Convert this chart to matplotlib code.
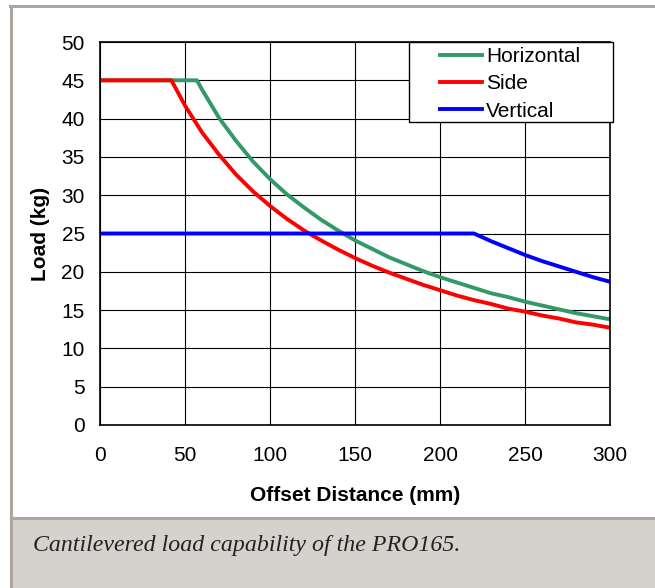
import matplotlib
matplotlib.use("Agg")
import matplotlib.pyplot as plt
from matplotlib.patches import Rectangle
from matplotlib.lines import Line2D

# Offset distance (mm) and rated load (kg) for each load direction
horiz_x = [0, 57, 60, 70, 80, 90, 100, 110, 120, 130, 140, 150, 160, 170, 180,
           190, 200, 210, 220, 230, 240, 250, 260, 270, 280, 290, 300]
horiz_y = [45, 45, 43.8, 40.1, 37.1, 34.4, 32.1, 30.1, 28.4, 26.8, 25.4, 24.1,
           23.0, 21.9, 21.0, 20.1, 19.3, 18.6, 17.9, 17.2, 16.7, 16.1, 15.6,
           15.1, 14.6, 14.2, 13.8]

side_x = [0, 42, 50, 60, 70, 80, 90, 100, 110, 120, 130, 140, 150, 160, 170,
          180, 190, 200, 210, 220, 230, 240, 250, 260, 270, 280, 290, 300]
side_y = [45, 45, 41.7, 38.2, 35.3, 32.7, 30.5, 28.6, 26.9, 25.4, 24.1, 22.9,
          21.8, 20.8, 19.9, 19.1, 18.3, 17.6, 16.9, 16.3, 15.8, 15.2, 14.8,
          14.3, 13.9, 13.4, 13.1, 12.7]

vert_x = [0, 220, 230, 240, 250, 260, 270, 280, 290, 300]
vert_y = [25, 25, 24.0, 23.1, 22.2, 21.4, 20.7, 20.0, 19.3, 18.7]

series_names = ["Horizontal", "Side", "Vertical"]
series_colors = ["#339966", "#ff0000", "#0000ff"]

caption = "Cantilevered load capability of the PRO165."

plt.rcParams["font.family"] = ["Liberation Sans", "DejaVu Sans"]

W, H = 655, 588
fig = plt.figure(figsize=(W / 100, H / 100), dpi=100)
fig.patch.set_facecolor("white")

# frame around chart + caption panel
border = "#aca69f"
fig.patches.append(Rectangle((11 / W, 0), 1 - 11 / W, 1 - 519 / H,
                             transform=fig.transFigure, facecolor="#d5d2cd",
                             edgecolor="none", zorder=0))
fig.add_artist(Line2D([11 / W, 11 / W], [0, 1 - 6 / H], color=border, lw=2.2,
                      transform=fig.transFigure))
fig.add_artist(Line2D([10 / W, 1], [1 - 6 / H, 1 - 6 / H], color=border, lw=2.2,
                      transform=fig.transFigure))
fig.add_artist(Line2D([11 / W, 1], [1 - 518 / H, 1 - 518 / H], color=border,
                      lw=2.2, transform=fig.transFigure))

fig.text(33 / W, 1 - 545 / H, caption, family=["Liberation Serif"],
         style="italic", fontsize=17.2, color="#222222", va="center", ha="left")

ax = fig.add_axes([100 / W, 1 - 425 / H, 510 / W, 383 / H])
for xs, ys, name, col in zip([horiz_x, side_x, vert_x], [horiz_y, side_y, vert_y],
                             series_names, series_colors):
    ax.plot(xs, ys, color=col, lw=2.8, label=name, solid_joinstyle="round")

ax.set_xlim(0, 300)
ax.set_ylim(0, 50)
ax.set_xticks(range(0, 301, 50))
ax.set_yticks(range(0, 51, 5))
ax.grid(True, color="black", lw=0.8)
ax.set_axisbelow(True)
for s in ax.spines.values():
    s.set_linewidth(1.2)
    s.set_color("black")
ax.tick_params(axis="both", length=0, labelsize=15)
ax.tick_params(axis="x", pad=15)
ax.tick_params(axis="y", pad=11)

ax.set_xlabel("Offset Distance (mm)", fontsize=15, fontweight="bold", labelpad=15)
ax.set_ylabel("Load (kg)", fontsize=15, fontweight="bold", labelpad=8)

# legend box
ax.add_patch(Rectangle((409 / W, 1 - 122 / H), 204 / W, 80 / H,
                       transform=fig.transFigure, facecolor="white",
                       edgecolor="black", lw=1.0, zorder=4, clip_on=False))
leg = ax.legend(loc="upper left", bbox_to_anchor=(440 / W, 1 - 47 / H),
                bbox_transform=fig.transFigure, fontsize=15, frameon=False,
                handlelength=2.0, handletextpad=0.2, labelspacing=0.4,
                borderpad=0, borderaxespad=0)
leg.set_zorder(5)

fig.savefig("out.png", dpi=100)
